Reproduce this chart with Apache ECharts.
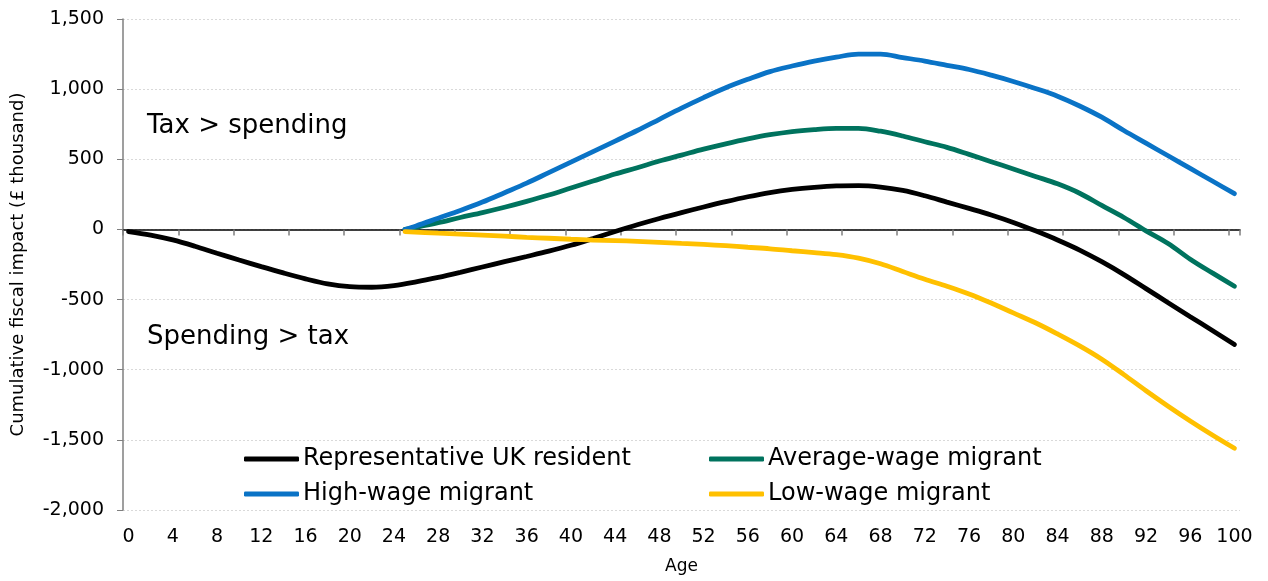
<!DOCTYPE html>
<html>
<head>
<meta charset="utf-8">
<script src="https://cdn.jsdelivr.net/npm/echarts@6/dist/echarts.min.js"></script>
<style>
    html, body { margin: 0; padding: 0; background: #fff; }
    #chart { width: 1268px; height: 581px; }
</style>
</head>
<body>
<div id="chart"></div>
<script>
    // ages 0..100 as categories
    var ages = [];
    for (var a = 0; a <= 100; a++) ages.push(String(a));

    // [age, cumulative fiscal impact in £ thousand]
    var ukResident = [
        [0, -15], [2, -40], [4, -75], [6, -120], [8, -170], [10, -218], [12, -265], [14, -310],
        [16, -352], [18, -388], [20, -408], [22, -412], [24, -400], [26, -374], [28, -342],
        [30, -306], [32, -268], [34, -230], [36, -193], [38, -155], [40, -113], [42, -65],
        [44, -15], [46, 33], [48, 78], [50, 120], [52, 160], [54, 198], [56, 233], [58, 263],
        [60, 285], [62, 300], [64, 310], [66, 312], [68, 302], [70, 278], [72, 240], [74, 195],
        [76, 150], [78, 103], [80, 50], [82, -10], [84, -75], [86, -147], [88, -230],
        [90, -322], [92, -422], [94, -522], [96, -622], [98, -720], [100, -820]
    ];
    var averageWage = [
        [25, 0], [26, 15], [28, 48], [30, 85], [32, 120], [34, 158], [36, 200], [38, 245],
        [40, 295], [42, 345], [44, 395], [46, 440], [48, 488], [50, 530], [52, 572], [54, 610],
        [56, 645], [58, 675], [60, 698], [62, 712], [64, 720], [66, 720], [68, 700], [70, 666],
        [72, 625], [74, 585], [76, 535], [78, 483], [80, 431], [82, 378], [84, 325], [86, 258],
        [88, 171], [90, 85], [92, -10], [94, -100], [96, -212], [98, -310], [100, -405]
    ];
    var highWage = [
        [25, 0], [26, 25], [28, 80], [30, 135], [32, 195], [34, 262], [36, 330], [38, 405],
        [40, 480], [42, 555], [44, 630], [46, 705], [48, 785], [50, 865], [52, 940], [54, 1010],
        [56, 1070], [58, 1125], [60, 1165], [62, 1200], [64, 1228], [66, 1250], [68, 1250],
        [70, 1225], [72, 1200], [74, 1170], [76, 1140], [78, 1100], [80, 1055], [82, 1005],
        [84, 950], [86, 880], [88, 800], [90, 705], [92, 615], [94, 525], [96, 435],
        [98, 345], [100, 255]
    ];
    var lowWage = [
        [25, -15], [28, -27], [30, -33], [32, -40], [34, -48], [36, -56], [38, -63], [40, -70],
        [42, -76], [44, -80], [46, -85], [48, -92], [50, -100], [52, -107], [54, -116],
        [56, -127], [58, -138], [60, -152], [62, -165], [64, -180], [66, -205], [68, -245],
        [70, -300], [72, -355], [74, -405], [76, -460], [78, -525], [80, -595], [82, -665],
        [84, -745], [86, -830], [88, -925], [90, -1035], [92, -1150], [94, -1260],
        [96, -1365], [98, -1465], [100, -1560]
    ];

    var seriesNames = ['Representative UK resident', 'Average-wage migrant', 'High-wage migrant', 'Low-wage migrant'];
    var seriesColors = ['#000000', '#00735e', '#0a73c6', '#ffc000'];
    var seriesData = [ukResident, averageWage, highWage, lowWage];

    var font = 'DejaVu Sans';
    var chart = echarts.init(document.getElementById('chart'));

    var legendBase = {
        orient: 'vertical',
        top: 447,
        padding: 0,
        icon: 'roundRect',
        itemWidth: 55, itemHeight: 5,
        itemGap: 11,
        textStyle: { fontSize: 24, fontFamily: font, color: '#000', padding: [0, 0, 0, -1] }
    };

    chart.setOption({
        animation: false,
        textStyle: { fontFamily: font, color: '#000' },
        grid: { left: 123, right: 28, top: 19, bottom: 71 },
        legend: [
            Object.assign({}, legendBase, { data: [seriesNames[0], seriesNames[2]], left: 244 }),
            Object.assign({}, legendBase, { data: [seriesNames[1], seriesNames[3]], left: 709 })
        ],
        graphic: [
            { type: 'text', left: 147, top: 113, style: { text: 'Tax > spending', font: '26px "DejaVu Sans"', fill: '#000' } },
            { type: 'text', left: 147, top: 324, style: { text: 'Spending > tax', font: '26px "DejaVu Sans"', fill: '#000' } }
        ],
        xAxis: [
            {
                type: 'category',
                data: ages,
                boundaryGap: true,
                name: 'Age',
                nameLocation: 'middle',
                nameGap: 48,
                nameTextStyle: { fontSize: 17, color: '#000' },
                axisLine: { show: false, onZero: false },
                axisTick: { show: false },
                axisLabel: { interval: 3, fontSize: 19, color: '#000', margin: 18 }
            },
            {
                type: 'category',
                data: ages,
                position: 'bottom',
                boundaryGap: true,
                axisLine: { show: true, onZero: true, lineStyle: { color: '#000', width: 1.5 } },
                axisTick: { show: true, interval: 4, length: 6, lineStyle: { color: '#7f7f7f', width: 1.5 } },
                axisLabel: { show: false }
            }
        ],
        yAxis: {
            type: 'value',
            min: -2000,
            max: 1500,
            interval: 500,
            name: 'Cumulative fiscal impact (£ thousand)',
            nameLocation: 'middle',
            nameGap: 96,
            nameTextStyle: { fontSize: 18, color: '#000' },
            axisLine: { show: true, lineStyle: { color: '#7f7f7f', width: 1.5 } },
            axisTick: { show: true, length: 6, lineStyle: { color: '#7f7f7f' } },
            axisLabel: {
                fontSize: 19,
                color: '#000',
                margin: 19,
                formatter: function (v) {
                    return v.toLocaleString('en-GB');
                }
            },
            splitLine: { show: true, lineStyle: { color: '#d9d9d9', type: [2, 2] } }
        },
        series: seriesNames.map(function (name, i) {
            return {
                name: name,
                type: 'line',
                data: seriesData[i],
                xAxisIndex: 0,
                smooth: 0.35,
                showSymbol: false,
                symbol: 'none',
                color: seriesColors[i],
                lineStyle: { width: 4.8, color: seriesColors[i], cap: 'round' }
            };
        })
    });

    window.addEventListener('resize', function () {
        chart.resize();
    });
</script>
</body>
</html>
